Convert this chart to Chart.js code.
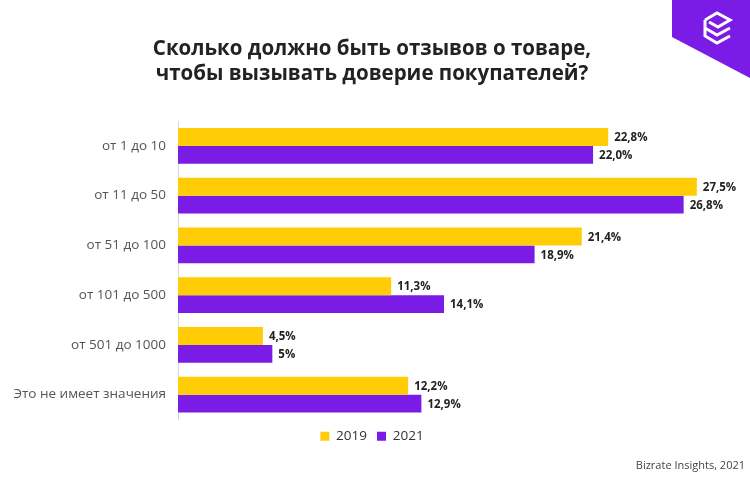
<!DOCTYPE html>
<html>
<head>
<meta charset="utf-8">
<script src="https://cdn.jsdelivr.net/npm/chart.js@4"></script>
<style>
  html, body { margin: 0; padding: 0; background: #fff; }
  #wrap { width: 750px; height: 477px; position: relative; }
</style>
</head>
<body>
<div id="wrap"><canvas id="chart" width="750" height="477"></canvas></div>
<script>
const categories = ["от 1 до 10", "от 11 до 50", "от 51 до 100", "от 101 до 500", "от 501 до 1000", "Это не имеет значения"];
const values2019 = [22.8, 27.5, 21.4, 11.3, 4.5, 12.2];
const values2021 = [22.0, 26.8, 18.9, 14.1, 5, 12.9];
const labels2019 = ["22,8%", "27,5%", "21,4%", "11,3%", "4,5%", "12,2%"];
const labels2021 = ["22,0%", "26,8%", "18,9%", "14,1%", "5%", "12,9%"];

const yellow = "#FFCC05";
const purple = "#7A1CE6";
const font = "'Open Sans', 'Noto Sans', sans-serif";

// value text to the right of each bar
const valueLabels = {
  id: "valueLabels",
  afterDatasetsDraw(chart) {
    const ctx = chart.ctx;
    const texts = [labels2019, labels2021];
    ctx.save();
    ctx.font = "bold 11.5px " + font;
    ctx.fillStyle = "#222";
    ctx.textBaseline = "middle";
    chart.data.datasets.forEach((ds, i) => {
      chart.getDatasetMeta(i).data.forEach((bar, j) => {
        ctx.fillText(texts[i][j], bar.x + 6, bar.y + 1);
      });
    });
    ctx.restore();
  }
};

// corner logo and source line
const decor = {
  id: "decor",
  afterDraw(chart) {
    const ctx = chart.ctx;
    ctx.save();
    ctx.fillStyle = "#7A1CE6";
    ctx.beginPath();
    ctx.moveTo(672, 0);
    ctx.lineTo(750, 0);
    ctx.lineTo(750, 78);
    ctx.lineTo(672, 37);
    ctx.closePath();
    ctx.fill();

    ctx.strokeStyle = "#fff";
    ctx.lineWidth = 3;
    ctx.lineJoin = "miter";
    ctx.beginPath();
    ctx.moveTo(705, 20);
    ctx.lineTo(717, 13);
    ctx.lineTo(730, 20);
    ctx.lineTo(718, 27);
    ctx.lineTo(709, 22);
    ctx.stroke();
    ctx.beginPath();
    ctx.moveTo(705, 20);
    ctx.lineTo(705, 36);
    ctx.lineTo(717, 43);
    ctx.lineTo(730, 36);
    ctx.stroke();
    ctx.beginPath();
    ctx.moveTo(705, 28);
    ctx.lineTo(717, 35);
    ctx.lineTo(730, 28);
    ctx.stroke();

    ctx.font = "11px " + font;
    ctx.fillStyle = "#444";
    ctx.textAlign = "right";
    ctx.textBaseline = "middle";
    ctx.fillText("Bizrate Insights, 2021", 745, 466);
    ctx.restore();
  }
};

new Chart(document.getElementById("chart"), {
  type: "bar",
  data: {
    labels: categories,
    datasets: [
      { label: "2019", data: values2019, backgroundColor: yellow },
      { label: "2021", data: values2021, backgroundColor: purple }
    ]
  },
  options: {
    indexAxis: "y",
    responsive: false,
    animation: false,
    datasets: { bar: { categoryPercentage: 0.72, barPercentage: 1 } },
    layout: { padding: { left: 0, right: 6, bottom: 24 } },
    scales: {
      x: { display: false, min: 0, max: 30 },
      y: {
        grid: { display: true, drawOnChartArea: false, drawTicks: false },
        border: { display: true, color: "#d8d8d8", width: 1 },
        ticks: { color: "#555", font: { family: font, size: 13.5 }, padding: 12 },
        afterFit(scale) { scale.width = 178; }
      }
    },
    plugins: {
      title: {
        display: true,
        text: ["Сколько должно быть отзывов о товаре,", "чтобы вызывать доверие покупателей?"],
        color: "#222",
        font: { family: font, size: 20.5, weight: "bold", lineHeight: 1.22 },
        padding: { top: 37, bottom: 34 }
      },
      legend: {
        position: "bottom",
        labels: {
          color: "#333",
          font: { family: font, size: 13.5 },
          boxWidth: 9,
          boxHeight: 9,
          padding: 10,
          useBorderRadius: false
        }
      },
      tooltip: { enabled: false }
    }
  },
  plugins: [valueLabels, decor]
});
</script>
</body>
</html>
